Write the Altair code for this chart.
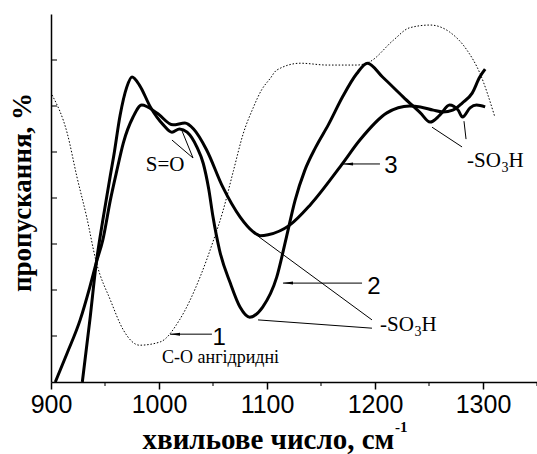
import altair as alt
import pandas as pd

# ---- curve 1 (dotted) ----
c1_x = [901, 915, 924, 933, 942, 955, 967, 982, 1001, 1019, 1038, 1050, 1059, 1069, 1078, 1087, 1095, 1103,
        1109, 1131, 1156, 1183, 1195, 1217, 1232, 1251, 1269, 1285, 1297, 1311]
c1_y = [6.24, 5.41, 4.46, 3.59, 2.6, 1.78, 1.13, 0.8, 0.87, 1.35, 2.28, 3.05, 3.7, 4.6, 5.4, 5.95, 6.35, 6.6,
        6.78, 6.93, 6.89, 6.89, 6.96, 7.43, 7.7, 7.76, 7.61, 7.22, 6.72, 5.76]

# ---- curve 2 (thick, deep minimum) ----
c2_x = [929, 936, 942, 948, 955, 958, 964, 970, 975, 982, 992, 1004, 1012, 1019, 1026, 1035, 1041, 1046,
        1050, 1056, 1066, 1075, 1084, 1096, 1109, 1118, 1126, 1135, 1145, 1157, 1170, 1183, 1193, 1207, 1226,
        1242, 1251, 1260, 1269, 1277, 1281, 1288, 1294, 1302]
c2_y = [0.0, 1.35, 2.6, 3.52, 4.5, 4.9, 5.8, 6.4, 6.63, 6.45, 5.98, 5.59, 5.43, 5.5, 5.43, 5.11, 4.75, 4.2,
        3.59, 2.87, 2.15, 1.63, 1.41, 1.63, 2.28, 3.15, 3.95, 4.6, 5.1, 5.6, 6.2, 6.7, 6.93, 6.63, 6.2,
        5.85, 5.65, 5.8, 6.02, 5.91, 5.76, 5.96, 6.02, 5.98]

# ---- curve 3 (thick, shallow minimum) ----
c3_x = [904, 915, 927, 936, 942, 948, 955, 961, 967, 976, 984, 998, 1013, 1024, 1032, 1044, 1059, 1075,
        1087, 1094, 1101, 1121, 1140, 1169, 1186, 1211, 1232, 1242, 1254, 1263, 1272, 1281, 1290, 1297, 1302]
c3_y = [0.0, 0.63, 1.35, 2.07, 2.6, 3.09, 3.96, 4.6, 5.2, 5.76, 6.02, 5.85, 5.59, 5.63, 5.5, 5.05, 4.24, 3.59,
        3.27, 3.18, 3.2, 3.41, 3.85, 4.72, 5.26, 5.85, 6.0, 5.98, 5.91, 5.87, 5.91, 6.07, 6.28, 6.63, 6.8]

# ---- axis ticks ----
x_major = [900, 1000, 1100, 1200, 1300]
x_minor = [950, 1050, 1150, 1250, 1350]
y_ticks = [1, 2, 3, 4, 5, 6, 7]

# ---- leader lines (x1, y1, x2, y2) ----
seg_x1 = [1012, 1021.3, 1091.7, 1091.7, 1252.8, 1282.4, 1049, 1188, 1204.6]
seg_y1 = [5.26, 5.46, 3.17, 1.35, 5.54, 5.67, 1.04, 2.15, 4.74]
seg_x2 = [1031.5, 1031.5, 1197.2, 1197.2, 1280.6, 1284.3, 1010.2, 1114.8, 1170.4]
seg_y2 = [4.87, 4.87, 1.35, 1.17, 5.11, 5.28, 1.04, 2.15, 4.74]

# ---- arrow heads ----
head_x = [1010.2, 1114.8, 1170.4]
head_y = [1.04, 2.15, 4.74]

# ---- labels ----
num_text = ["1", "2", "3"]
num_x = [1055.6, 1199, 1214.8]
num_y = [0.96, 2.07, 4.70]

so_x = [1285.2, 1204.6]
so_y = [4.80, 1.24]

serif_text = ["S=O"]
serif_x = [1005.6]
serif_y = [4.72]

co_text = ["C-O ангідридні"]
co_x = [1002.8]
co_y = [0.52]

SERIF = "Liberation Serif"
SANS = "Liberation Sans"

xscale = alt.Scale(domain=[900, 1350], nice=False, zero=False)
yscale = alt.Scale(domain=[0, 8], nice=False, zero=False)

xaxis = alt.Axis(values=x_major, format="d", title="хвильове число, см", grid=False, tickSize=7,
                 labelFont=SANS, labelFontSize=25, labelPadding=3, labelColor="black", labelFlush=False,
                 labelOverlap=False,
                 titleFont=SERIF, titleFontSize=29, titleFontWeight="bold", titleColor="black",
                 titleX=91, titleY=66, titleAlign="left", titleBaseline="alphabetic")
yaxis = alt.Axis(ticks=False, labels=False, grid=False, title="пропускання, %",
                 titleFont=SERIF, titleFontSize=27, titleFontWeight="bold", titleColor="black",
                 titleAngle=270, titleX=-29, titleY=178, titleAlign="center", titleBaseline="middle")


def X(f):
    return alt.X(f, type="quantitative", scale=xscale, axis=xaxis)


def Y(f):
    return alt.Y(f, type="quantitative", scale=yscale, axis=yaxis)


d1 = pd.DataFrame({"x": c1_x, "v": c1_y})
d2 = pd.DataFrame({"x": c2_x, "v": c2_y})
d3 = pd.DataFrame({"x": c3_x, "v": c3_y})

l1 = alt.Chart(d1).mark_line(color="black", strokeWidth=1, strokeDash=[1.5, 1.8],
                             interpolate="monotone").encode(x=X("x"), y=Y("v"))
l2 = alt.Chart(d2).mark_line(color="black", strokeWidth=3,
                             interpolate="monotone").encode(x=X("x"), y=Y("v"))
l3 = alt.Chart(d3).mark_line(color="black", strokeWidth=3,
                             interpolate="monotone").encode(x=X("x"), y=Y("v"))

segs = pd.DataFrame({"x": seg_x1, "v": seg_y1, "x2": seg_x2, "v2": seg_y2})
rules = alt.Chart(segs).mark_rule(color="black", strokeWidth=1).encode(
    x=X("x"), y=Y("v"), x2="x2", y2="v2")

heads = alt.Chart(pd.DataFrame({"x": head_x, "v": head_y})).mark_point(
    shape="M0,0L2,-0.3L2,0.3Z", size=100, filled=True, color="black", opacity=1, strokeWidth=0
).encode(x=X("x"), y=Y("v"))

nums = alt.Chart(pd.DataFrame({"x": num_x, "v": num_y, "t": num_text})).mark_text(
    font=SANS, fontSize=24, color="black", align="center", baseline="middle"
).encode(x=X("x"), y=Y("v"), text="t:N")

sodf = pd.DataFrame({"x": so_x, "v": so_y})
so1 = alt.Chart(sodf).mark_text(font=SERIF, fontSize=21, color="black", align="left",
                                baseline="middle", text="-SO").encode(x=X("x"), y=Y("v"))
so2 = alt.Chart(sodf).mark_text(font=SERIF, fontSize=14, color="black", align="left",
                                baseline="middle", text="3", dx=34.5, dy=7).encode(x=X("x"), y=Y("v"))
so3 = alt.Chart(sodf).mark_text(font=SERIF, fontSize=21, color="black", align="left",
                                baseline="middle", text="H", dx=41.5).encode(x=X("x"), y=Y("v"))

sO = alt.Chart(pd.DataFrame({"x": serif_x, "v": serif_y, "t": serif_text})).mark_text(
    font=SERIF, fontSize=21, color="black", align="center", baseline="middle"
).encode(x=X("x"), y=Y("v"), text="t:N")

co = alt.Chart(pd.DataFrame({"x": co_x, "v": co_y, "t": co_text})).mark_text(
    font=SERIF, fontSize=18, color="black", align="left", baseline="middle"
).encode(x=X("x"), y=Y("v"), text="t:N")

# superscript of the x-axis unit
sup = alt.Chart(pd.DataFrame({"x": [1218.5], "v": [-0.98], "t": ["-1"]})).mark_text(
    font=SERIF, fontSize=15, fontWeight="bold", color="black", align="left", baseline="middle"
).encode(x=X("x"), y=Y("v"), text="t:N")

yt = alt.Chart(pd.DataFrame({"v": y_ticks})).mark_tick(
    orient="horizontal", size=6, thickness=1.5, xOffset=3, color="black"
).encode(x=alt.datum(900, scale=xscale), y=Y("v"))

xt = alt.Chart(pd.DataFrame({"x": x_minor})).mark_tick(
    orient="vertical", size=4, thickness=1.5, yOffset=2, color="black"
).encode(x=X("x"), y=alt.datum(0, scale=yscale))

chart = alt.layer(l1, l2, l3, rules, heads, nums, so1, so2, so3, sO, co, sup, yt, xt).properties(
    width=486, height=368,
    autosize=alt.AutoSizeParams(type="none"),
    padding={"left": 51, "top": 14, "right": 0, "bottom": 72},
    background="white",
).configure_view(strokeWidth=0).configure_axis(
    domainColor="black", domainWidth=1.5, tickColor="black", tickWidth=1.5
)

chart.save("out.html", embed_options={"renderer": "svg", "actions": False})
